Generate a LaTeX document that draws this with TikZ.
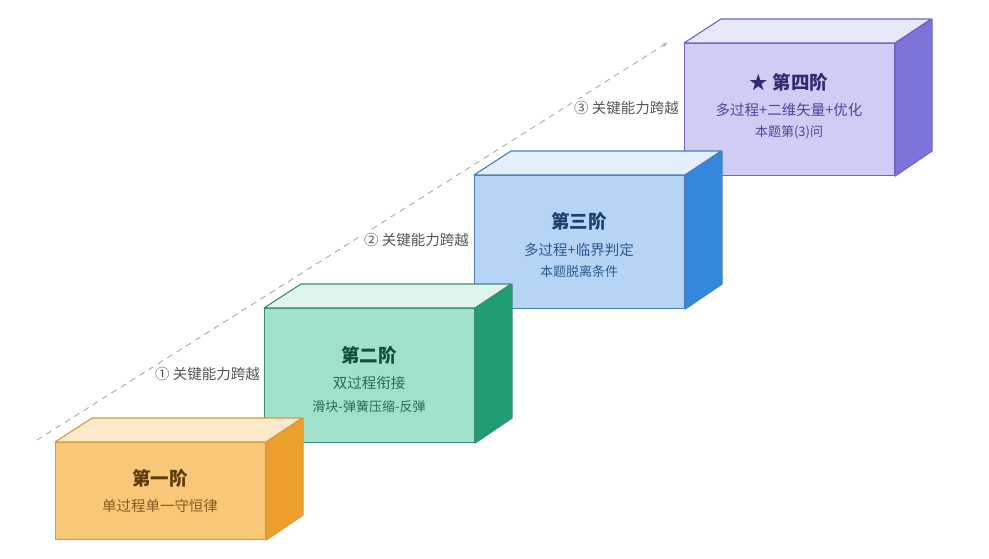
\documentclass[tikz,border=0pt]{standalone}
\usepackage{fontspec}
\setmainfont{Noto Sans CJK SC}
\usetikzlibrary{arrows.meta}
% box colours
\definecolor{afront}{HTML}{F8C777}
\definecolor{atop}{HTML}{FCE8CB}
\definecolor{aside}{HTML}{EEA02C}
\definecolor{aedge}{HTML}{D69A3E}
\definecolor{atitle}{HTML}{5A3A0E}
\definecolor{asub}{HTML}{8A5A1E}
\definecolor{bfront}{HTML}{A0E1C9}
\definecolor{btop}{HTML}{DEF4EC}
\definecolor{bside}{HTML}{1E9E72}
\definecolor{bedge}{HTML}{3D8B6E}
\definecolor{btitle}{HTML}{124E3A}
\definecolor{bsub}{HTML}{266C54}
\definecolor{cfront}{HTML}{B6D4F5}
\definecolor{ctop}{HTML}{E4EFFB}
\definecolor{cside}{HTML}{3388DC}
\definecolor{cedge}{HTML}{4A7EBB}
\definecolor{ctitle}{HTML}{1C416E}
\definecolor{csub}{HTML}{2C5A8E}
\definecolor{dfront}{HTML}{D0CDF5}
\definecolor{dtop}{HTML}{E9E8FA}
\definecolor{dside}{HTML}{7D74DA}
\definecolor{dedge}{HTML}{6C65C4}
\definecolor{dtitle}{HTML}{332C74}
\definecolor{dsub}{HTML}{4A449E}
\definecolor{labgray}{HTML}{555555}
\definecolor{dashgray}{HTML}{AAAAAA}
\tikzset{
  face/.style={line width=1.1pt, line join=round},
  frontbox/.style={rectangle, inner sep=0pt, minimum width=210pt, face},
  ttl/.style={font=\fontsize{18.5}{20}\selectfont\bfseries, inner sep=0pt},
  subl/.style={font=\fontsize{14.5}{16}\selectfont, inner sep=0pt},
  thirdl/.style={font=\fontsize{13}{15}\selectfont, inner sep=0pt},
  lab/.style={font=\fontsize{14.5}{16}\selectfont, text=labgray, fill=white, inner sep=2pt, anchor=east},
  dashline/.style={draw=dashgray, line width=0.9pt, dash pattern=on 6pt off 5pt, -{Stealth[length=5pt,width=4pt]}}
}
\newcommand{\stairbox}[5]{%
  \node[frontbox, minimum height=#4pt, fill=#5front, draw=#5edge, anchor=north west] (#1) at (#2,#3) {};
  \filldraw[fill=#5top, draw=#5edge, face] (#1.north west) -- ++(37,-24) -- ++(210,0) -- (#1.north east) -- cycle;
  \filldraw[fill=#5side, draw=#5edge, face] (#1.north east) -- ++(37,-24) -- ++(0,#4) -- (#1.south east) -- cycle;
}
\begin{document}
\begin{tikzpicture}[x=1pt, y=-1pt]
\useasboundingbox (0,0) rectangle (989,558);
% dashed guide line
\coordinate (ls) at (37,440);
\coordinate (le) at (667,43);
\draw[dashline] (ls) -- (le);
% labels on the guide
\node[lab] (l1) at (262,374) {① 关键能力跨越};
\node[lab] (l2) at (471,240) {② 关键能力跨越};
\node[lab] (l3) at (681,108) {③ 关键能力跨越};
% boxes, back to front
\stairbox{b4}{684}{43}{132}{d}
\stairbox{b3}{474}{175}{133}{c}
\stairbox{b2}{264}{308}{134}{b}
\stairbox{b1}{55}{442}{97}{a}
% texts
\node[ttl, text=atitle] (t1) at (160,478) {第一阶};
\node[subl, text=asub] (s1) at (160,506) {单过程单一守恒律};
\node[ttl, text=btitle] (t2) at (369,355) {第二阶};
\node[subl, text=bsub] (s2) at (369,383) {双过程衔接};
\node[thirdl, text=bsub] (r2) at (369,407) {滑块-弹簧压缩-反弹};
\node[ttl, text=ctitle] (t3) at (579,221) {第三阶};
\node[subl, text=csub] (s3) at (579,250) {多过程+临界判定};
\node[thirdl, text=csub] (r3) at (579,272) {本题脱离条件};
\node[ttl, text=dtitle] (t4) at (789,82) {★ 第四阶};
\node[subl, text=dsub] (s4) at (789,110) {多过程+二维矢量+优化};
\node[thirdl, text=dsub] (r4) at (789,132) {本题第(3)问};
\end{tikzpicture}
\end{document}
